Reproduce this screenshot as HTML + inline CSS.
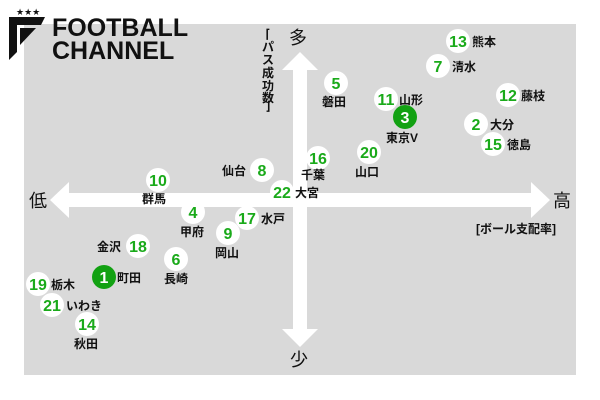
<!DOCTYPE html>
<html><head><meta charset="utf-8"><style>
html,body{margin:0;padding:0;background:#fff;}
svg{display:block}
.n{font-family:"Liberation Sans Narrow","Liberation Sans",sans-serif;font-weight:bold;fill:#1aaa1a;font-size:16px;text-anchor:middle}
.l{font-family:"Liberation Sans","Noto Sans CJK JP",sans-serif;font-weight:bold;fill:#111;font-size:12px}
.b{font-family:"Liberation Sans","Noto Sans CJK JP",sans-serif;fill:#111;font-size:18px;text-anchor:middle}
</style></head><body>
<svg width="600" height="400" viewBox="0 0 600 400">
<rect x="24" y="24" width="552" height="351" fill="#d9d9d9"/>
<rect x="293" y="70" width="14" height="262" fill="#fff"/>
<rect x="68" y="193" width="464" height="14" fill="#fff"/>
<polygon points="300,52 318,70 282,70" fill="#fff"/>
<polygon points="300,347 318,329 282,329" fill="#fff"/>
<polygon points="50,200 69,182 69,218" fill="#fff"/>
<polygon points="550,200 531,182 531,218" fill="#fff"/>
<text class="b" x="298" y="44">多</text>
<text class="b" x="299" y="366">少</text>
<text class="b" x="38" y="207">低</text>
<text class="b" x="562" y="207">高</text>
<text class="l" x="476" y="233">[ボール支配率]</text>
<g class="l" text-anchor="middle">
<text x="268" y="38">⌈</text><text x="268" y="51">パ</text><text x="268" y="64">ス</text><text x="268" y="77">成</text><text x="268" y="90">功</text><text x="268" y="102">数</text><text x="268" y="110">⌋</text>
</g>
<polygon points="9,17 45,17 41,25 17,25 17,52 9,60" fill="#111"/>
<polygon points="20,28 36,28 20,45" fill="#111"/>
<text x="16" y="15" style="font-size:9px;font-family:'DejaVu Sans',sans-serif" fill="#111">★★★</text>
<text x="52" y="36" style="font-family:'Liberation Sans',sans-serif;font-weight:bold;font-size:25px" fill="#111">FOOTBALL</text>
<text x="52" y="59" style="font-family:'Liberation Sans',sans-serif;font-weight:bold;font-size:25px" fill="#111">CHANNEL</text>
<g fill="#fff">
<circle cx="158" cy="180" r="12"/><circle cx="262" cy="170" r="12"/><circle cx="282" cy="192" r="12"/>
<circle cx="458" cy="41" r="12"/><circle cx="438" cy="66" r="12"/><circle cx="336" cy="83" r="12"/>
<circle cx="386" cy="99" r="12"/><circle cx="508" cy="95" r="12"/><circle cx="476" cy="124" r="12"/>
<circle cx="493" cy="144" r="12"/><circle cx="318" cy="158" r="12"/><circle cx="369" cy="152" r="12"/>
<circle cx="193" cy="212" r="12"/><circle cx="247" cy="218" r="12"/><circle cx="228" cy="233" r="12"/>
<circle cx="138" cy="246" r="12"/><circle cx="176" cy="259" r="12"/><circle cx="38" cy="284" r="12"/>
<circle cx="52" cy="305" r="12"/><circle cx="87" cy="324" r="12"/>
</g>
<circle cx="405" cy="117" r="12" fill="#12a112"/>
<circle cx="104" cy="277" r="12" fill="#12a112"/>
<g class="n">
<text x="158" y="186">10</text><text x="262" y="176">8</text><text x="282" y="198">22</text>
<text x="458" y="47">13</text><text x="438" y="72">7</text><text x="336" y="89">5</text>
<text x="386" y="105">11</text><text x="508" y="101">12</text><text x="476" y="130">2</text>
<text x="493" y="150">15</text><text x="318" y="164">16</text><text x="369" y="158">20</text>
<text x="193" y="218">4</text><text x="247" y="224">17</text><text x="228" y="239">9</text>
<text x="138" y="252">18</text><text x="176" y="265">6</text><text x="38" y="290">19</text>
<text x="52" y="311">21</text><text x="87" y="330">14</text>
<text x="405" y="123" style="fill:#fff">3</text><text x="104" y="283" style="fill:#fff">1</text>
</g>
<g class="l">
<text x="472" y="46">熊本</text><text x="452" y="71">清水</text>
<text x="322" y="106">磐田</text><text x="399" y="104">山形</text>
<text x="386" y="142">東京V</text><text x="521" y="100">藤枝</text>
<text x="490" y="129">大分</text><text x="507" y="149">徳島</text>
<text x="301" y="179">千葉</text><text x="355" y="176">山口</text>
<text x="222" y="175">仙台</text><text x="295" y="197">大宮</text>
<text x="142" y="203">群馬</text><text x="180" y="236">甲府</text>
<text x="261" y="223">水戸</text><text x="215" y="257">岡山</text>
<text x="97" y="251">金沢</text><text x="164" y="283">長崎</text>
<text x="117" y="282">町田</text><text x="51" y="289">栃木</text>
<text x="66" y="310">いわき</text><text x="74" y="348">秋田</text>
</g>
</svg>
</body></html>
